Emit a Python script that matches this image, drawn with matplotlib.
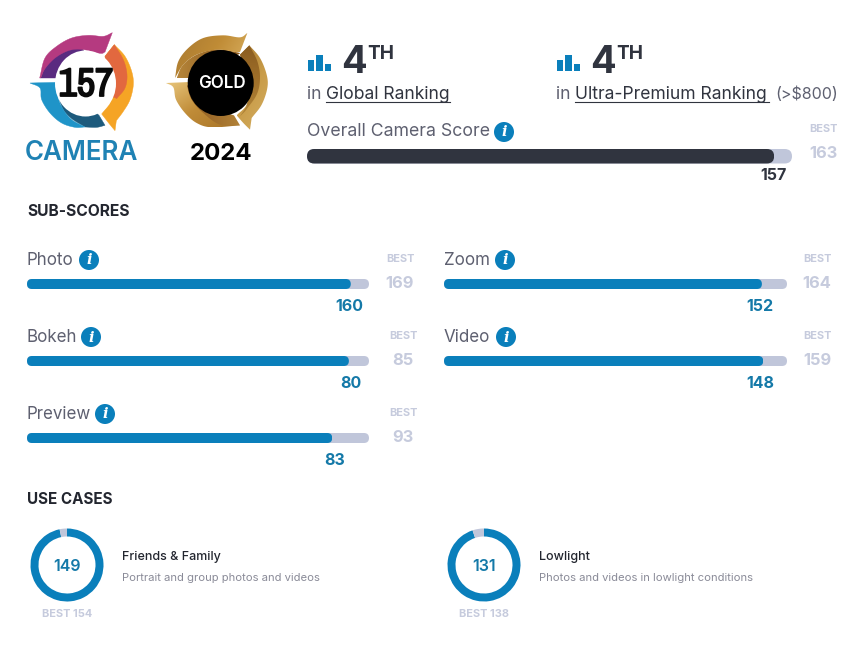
import numpy as np
import matplotlib
matplotlib.use("Agg")
import matplotlib.pyplot as plt
import matplotlib.patheffects as pe
from matplotlib import font_manager as fm
from matplotlib.patches import FancyBboxPatch, Ellipse, Circle, Polygon
from matplotlib.colors import LinearSegmentedColormap

W, H = 852, 653
FONT = "Inter"
plt.rcParams["font.family"] = [FONT, "DejaVu Sans"]
_names = {f.name for f in fm.fontManager.ttflist}
_narrow = sorted(n for n in _names if "narrow" in n.lower() or "condensed" in n.lower())
NARROW = _narrow[0] if _narrow else "Roboto"
BADGE_PX = 40 if _narrow else 34

# ---- data ----
overall_score = 157
overall_best = 163
sub_names = ["Photo", "Bokeh", "Preview", "Zoom", "Video"]
sub_scores = [160, 80, 83, 152, 148]
sub_bests = [169, 85, 93, 164, 159]
case_names = ["Friends & Family", "Lowlight"]
case_desc = ["Portrait and group photos and videos", "Photos and videos in lowlight conditions"]
case_scores = [149, 131]
case_bests = [154, 138]
rank_icon_heights = [11, 16, 7]

# ---- colours ----
BLUE = "#0a7fbb"
DARKBLUE = "#1479a8"
NAVY = "#30343f"
TRACK = "#c0c6da"
BESTC = "#c6cbdd"
GREY = "#5e6070"

fig = plt.figure(figsize=(W / 100, H / 100), dpi=100, facecolor="white")


def px_axes(x0, y0, x1, y1, **kw):
    return fig.add_axes([x0 / W, 1 - y1 / H, (x1 - x0) / W, (y1 - y0) / H], **kw)


ov = px_axes(0, 0, W, H)
ov.axis("off")


def T(x, y, s, size, color=GREY, weight="normal", ha="left", va="center", **kw):
    return ov.text(x, y + 1, s, fontsize=size * 0.72, color=color, weight=weight, ha=ha, va=va, **kw)


def hbar(x0, x1, y0, y1, value, best, color):
    ax = px_axes(x0, y0, x1, y1)
    ax.patch.set_alpha(0)
    ax.axis("off")
    ax.set_xlim(0, best)
    ax.set_ylim(-0.5, 0.5)
    w_px, h_px = x1 - x0, y1 - y0
    r = h_px / 2
    xu, yu = best / w_px, 1 / h_px
    for v, c in ((best, TRACK), (value, color)):
        bar = ax.barh(0, v, height=1, color=c, linewidth=0)[0]
        clip = FancyBboxPatch((0, -0.5), v, 1, boxstyle=f"round,pad=0,rounding_size={r * xu}",
                              mutation_aspect=yu / xu, transform=ax.transData)
        bar.set_clip_path(clip)
    return ax


def info(x, y, r=10):
    ov.add_patch(Circle((x, y), r, color=BLUE, lw=0))
    ov.text(x, y + 0.5, "i", fontsize=r * 1.05, color="white", weight="bold", style="italic",
            ha="center", va="center", family="DejaVu Serif")


# ---- badge shapes: outlines ----
def chain(pts, n=8):
    """Catmull-Rom smoothing of one edge chain."""
    p = np.array(pts, dtype=float)
    if len(p) < 3:
        return p
    q = np.vstack([2 * p[0] - p[1], p, 2 * p[-1] - p[-2]])
    out = []
    for i in range(1, len(q) - 2):
        for t in np.linspace(0, 1, n, endpoint=False):
            a, b, c, d = q[i - 1], q[i], q[i + 1], q[i + 2]
            out.append(0.5 * (2 * b + (c - a) * t + (2 * a - 5 * b + 4 * c - d) * t ** 2
                              + (3 * b - a - 3 * c + d) * t ** 3))
    out.append(p[-1])
    return np.array(out)


def shape(chains, origin, col, grad=None):
    pts = np.vstack([chain(c) for c in chains]) / 3 + np.array(origin)
    if grad is None:
        ov.add_patch(Polygon(pts, closed=True, facecolor=col, edgecolor=col, lw=0.3, zorder=1))
        return
    c1, c2, ang = grad
    poly = Polygon(pts, closed=True, facecolor="none", edgecolor="none", transform=ov.transData)
    ov.add_patch(poly)
    x0, y0 = pts.min(0)
    x1, y1 = pts.max(0)
    xx, yy = np.meshgrid(np.linspace(0, 1, 40), np.linspace(0, 1, 40))
    th = np.radians(ang)
    g = xx * np.cos(th) + yy * np.sin(th)
    g = (g - g.min()) / (g.max() - g.min())
    cmap = LinearSegmentedColormap.from_list("g", [c1, col, c2])
    im = ov.imshow(g, extent=(x0, x1, y1, y0), cmap=cmap, origin="upper", aspect="auto",
                   interpolation="bilinear", zorder=1)
    im.set_clip_path(poly)


ORG = (25, 28)
# magenta / purple
shape([[(47, 150), (100, 150)], [(100, 150), (125, 115), (178, 78)], [(178, 78), (170, 62), (130, 66), (90, 88), (60, 120), (47, 150)]],
      ORG, "#5a2b80")
shape([[(44, 150), (60, 90), (95, 55), (140, 30), (190, 22), (235, 25), (262, 14)], [(262, 14), (240, 72)],
       [(240, 72), (225, 76), (170, 64), (130, 68), (90, 90), (60, 122), (47, 150)]], ORG, "#b53a80")
# orange / red-orange
shape([[(240, 85), (268, 50)], [(268, 50), (300, 85), (320, 130), (325, 170), (315, 215), (295, 250), (274, 278)],
       [(274, 278), (270, 308)], [(270, 308), (255, 290), (230, 258)], [(230, 258), (255, 225), (262, 190)]], ORG, "#f5a425")
shape([[(240, 85), (268, 50)], [(268, 50), (295, 95), (306, 140), (300, 180), (275, 212)], [(275, 212), (250, 190), (240, 85)]],
      ORG, "#e2683f")
# blue / teal
shape([[(100, 205), (115, 245), (140, 272), (180, 297)], [(180, 297), (215, 298), (240, 292)], [(240, 292), (222, 262)],
       [(222, 262), (195, 240), (150, 230), (125, 215), (100, 205)]], ORG, "#1d5a7c")
shape([[(15, 165), (95, 163)], [(95, 163), (100, 210), (115, 245), (140, 275), (180, 297)],
       [(180, 297), (150, 298), (110, 285), (75, 255), (50, 215), (45, 180), (15, 165)]], ORG, "#1f94c8")
ov.add_patch(Ellipse((85.5, 83.5), 61, 66, color="white", lw=0, zorder=3))
ov.text(86, 84.5, str(overall_score), fontsize=BADGE_PX * 0.72, color="#0a0a0a", weight="bold", ha="center",
        va="center", family=NARROW, zorder=4,
        path_effects=[pe.withStroke(linewidth=1.3, foreground="#0a0a0a")])
T(81.5, 152.5, "CAMERA", 26, color="#1f82b4", weight="semibold", ha="center")

GO = (160, 28)
# gold: top segment
shape([[(50, 150), (100, 150)], [(100, 150), (130, 110), (175, 85), (235, 80)], [(235, 80), (235, 74), (170, 64), (110, 80), (68, 112), (50, 150)]],
      GO, "#9c6a28", grad=("#b5853a", "#8a5a20", 0))
shape([[(45, 150), (55, 100), (85, 60), (130, 30), (190, 22), (240, 28), (262, 15)], [(262, 15), (240, 72)],
       [(240, 72), (225, 72), (170, 65), (110, 80), (70, 110), (45, 150)]],
      GO, "#c08c36", grad=("#a87830", "#dcb466", 20))
# right segment
shape([[(240, 80), (268, 52)], [(268, 52), (300, 90), (320, 140), (322, 180), (305, 230), (275, 270)], [(275, 270), (270, 305)],
       [(270, 305), (250, 285), (230, 262)], [(230, 262), (262, 225), (265, 150), (240, 80)]],
      GO, "#c99c48", grad=("#a87a30", "#d4ae62", 60))
shape([[(240, 80), (268, 52)], [(268, 52), (292, 100), (300, 150), (290, 200), (255, 250)], [(255, 250), (240, 265)],
       [(240, 265), (262, 225), (265, 150), (240, 80)]], GO, "#a0702a", grad=("#8a5c20", "#b08438", 90))
# left-bottom segment
shape([[(18, 165), (90, 162)], [(90, 162), (120, 200), (170, 250), (240, 292)],
       [(240, 292), (155, 298), (110, 285), (75, 255), (48, 215), (40, 178), (18, 165)]],
      GO, "#c08c38", grad=("#e8c67c", "#a87428", 45))
shape([[(80, 170), (95, 215), (130, 255), (180, 290), (240, 292)], [(240, 292), (222, 262)], [(222, 262), (150, 240), (100, 190), (80, 170)]],
      GO, "#a06e2c", grad=("#8a5a22", "#b28238", 0))
ov.add_patch(Circle((220.7, 83), 33, color="black", lw=0, zorder=3))
T(222, 82.5, "GOLD", 17, color="white", weight="semibold", ha="center", zorder=4)
T(221, 152.5, "2024", 24, color="black", weight="bold", ha="center")

ov.set_xlim(0, W)
ov.set_ylim(H, 0)

# ---- ranking headers ----
for x0, label, under_x0, under_x1, extra in (
        (307, "Global Ranking", 326, 450, None),
        (556, "Ultra-Premium Ranking", 575, 769, "(>$800)")):
    iax = px_axes(x0, 55, x0 + 25, 71)
    iax.axis("off")
    iax.bar([0, 1, 2], rank_icon_heights, width=0.78, color=BLUE, align="center")
    iax.set_xlim(-0.45, 2.45)
    iax.set_ylim(0, max(rank_icon_heights))
    T(x0 + 34.5, 62, "4", 38, color=NAVY, weight="bold")
    T(x0 + 60, 53, "TH", 19, color=NAVY, weight="bold")
    T(x0, 93.5, "in", 17.5, color=GREY)
    T(under_x0, 93.5, label, 17.5, color=NAVY)
    ov.plot([under_x0, under_x1], [102, 102], color=NAVY, lw=0.8)
    if extra:
        T(775, 93.5, extra, 16, color=GREY)

# ---- overall ----
T(307, 130, "Overall Camera Score", 17.7, color=GREY)
info(504, 132)
ax = hbar(307, 792, 149, 163.5, overall_score, overall_best, NAVY)
ax.annotate(str(overall_score), (overall_score, 0), xytext=(-0.7, -13.5), textcoords="offset points",
            fontsize=11.5, weight="bold", color=NAVY, ha="center", va="center", annotation_clip=False)
T(823, 128, "BEST", 11, color=BESTC, weight="bold", ha="center")
T(823, 152.5, str(overall_best), 16.5, color=BESTC, weight="bold", ha="center")

T(27, 210.5, "SUB-SCORES", 15.6, color="#23262f", weight="bold")
T(27, 498, "USE CASES", 15.2, color="#23262f", weight="bold")

# ---- sub-scores ----
rows = [(27, 369, 279, 89, 400, -1), (27, 369, 356, 91, 403, 2), (27, 369, 433, 105, 403, 2),
        (444, 787, 279, 505, 817, -2), (444, 787, 356, 506, 817, -3)]
for name, s, b, (x0, x1, y, ix, bx, dx) in zip(sub_names, sub_scores, sub_bests, rows):
    T(x0, y - 19.5, name, 17, color=GREY)
    info(ix, y - 19)
    ax = hbar(x0, x1, y, y + 10, s, b, BLUE)
    ax.annotate(str(s), (s, 0), xytext=(dx * 0.72, -16), textcoords="offset points", fontsize=11.5,
                weight="bold", color=DARKBLUE, ha="center", va="center", annotation_clip=False)
    T(bx, y - 21, "BEST", 11, color=BESTC, weight="bold", ha="center")
    T(bx, y + 3.5, str(b), 16.5, color=BESTC, weight="bold", ha="center")

# ---- use cases ----
for name, desc, s, b, cx in zip(case_names, case_desc, case_scores, case_bests, (67, 484)):
    ax = px_axes(cx - 36.5, 565 - 36.5, cx + 36.5, 565 + 36.5)
    ax.pie([s, b - s], startangle=90, counterclock=False, colors=[BLUE, TRACK], radius=1,
           wedgeprops=dict(width=8 / 36.5, linewidth=0))
    ax.set_xlim(-1, 1)
    ax.set_ylim(-1, 1)
    T(cx, 565.5, str(s), 16, color=DARKBLUE, weight="semibold", ha="center")
    T(cx, 613, f"BEST {b}", 11, color=BESTC, weight="bold", ha="center")
    T(cx + 55, 556, name, 12.5, color="#23262f", weight="medium")
    T(cx + 55, 577, desc, 11.2, color="#8a8b98")

fig.savefig("out.png", dpi=100, facecolor="white")
